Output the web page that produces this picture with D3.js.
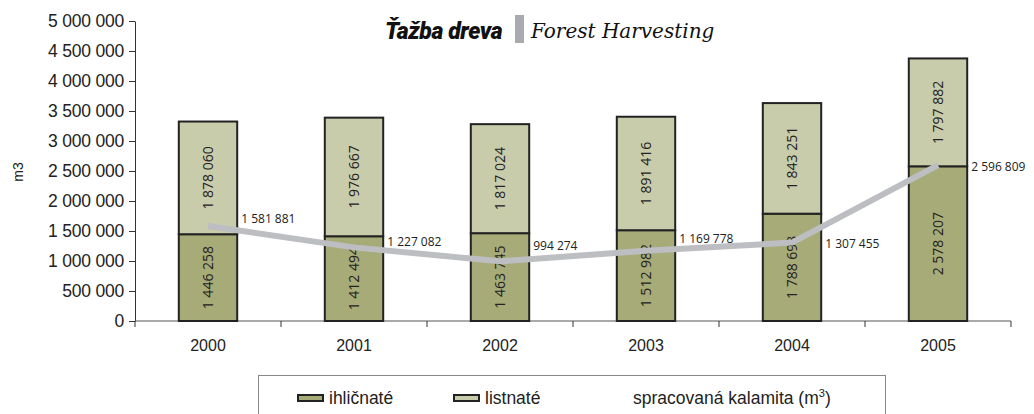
<!DOCTYPE html>
<html>
<head>
	<meta charset="utf-8">
	<script type="text/javascript" src="https://cdn.jsdelivr.net/npm/d3@7"></script>
	<title>Ťažba dreva - Forest Harvesting</title>
	<style>
		body { margin: 0; background: #fff; }
	</style>
</head>
<body>
	<script type="text/javascript">

	var years = ["2000", "2001", "2002", "2003", "2004", "2005"];
	var ihlicnate = [1446258, 1412494, 1463745, 1512982, 1788693, 2578207];
	var listnate = [1878060, 1976667, 1817024, 1891416, 1843251, 1797882];
	var kalamita = [1581881, 1227082, 994274, 1169778, 1307455, 2596809];
	var yTicks = [0, 500000, 1000000, 1500000, 2000000, 2500000, 3000000, 3500000, 4000000, 4500000, 5000000];
	var seriesNames = ["ihličnaté", "listnaté", "spracovaná kalamita (m"];

	var widthSvg = 1034;
	var heightSvg = 414;

	var svg = d3.select("body")
			.append("svg")
			.attr("width", widthSvg)
			.attr("height", heightSvg);

	// 3 digit groups with a space, like the original
	function fmt(v) {
		return d3.format(",")(v).replace(/,/g, " ");
	}

	var xScale = d3.scaleBand()
		.domain(years)
		.range([135, 1011])
		.paddingInner(0.6)
		.paddingOuter(0.3);

	var yScale = d3.scaleLinear()
		.domain([0, 5000000])
		.range([321, 21]);

	var sansFont = "'Liberation Sans', Arial, sans-serif";
	var labelFont = "'Open Sans', 'Noto Sans', sans-serif";

	// y axis
	var yAxis = d3.axisLeft(yScale)
		.tickValues(yTicks)
		.tickFormat(fmt)
		.tickSize(6)
		.tickSizeOuter(0);

	var gy = svg.append("g")
		.attr("transform", "translate(135,0)")
		.call(yAxis);
	gy.select(".domain").attr("stroke", "#333");
	gy.selectAll(".tick line").attr("stroke", "#333");
	gy.selectAll(".tick text")
		.attr("font-family", sansFont)
		.attr("font-size", 17.5)
		.attr("fill", "#222")
		.attr("x", -11)
		.attr("letter-spacing", -0.2);

	// x axis, ticks between categories
	svg.append("line")
		.attr("x1", 135).attr("x2", 1011)
		.attr("y1", yScale(0)).attr("y2", yScale(0))
		.attr("stroke", "#555");

	var boundaries = d3.range(years.length + 1).map(function(i) { return 135 + i * xScale.step(); });
	svg.selectAll(".xtick")
		.data(boundaries)
		.enter()
		.append("line")
		.attr("x1", function(d) { return d; })
		.attr("x2", function(d) { return d; })
		.attr("y1", yScale(0))
		.attr("y2", yScale(0) + 6)
		.attr("stroke", "#333");

	svg.selectAll(".xlabel")
		.data(years)
		.enter()
		.append("text")
		.attr("x", function(d) { return xScale(d) + xScale.bandwidth() / 2; })
		.attr("y", 351)
		.attr("text-anchor", "middle")
		.attr("font-family", sansFont)
		.attr("font-size", 16)
		.attr("fill", "#222")
		.text(function(d) { return d; });

	svg.append("text")
		.attr("transform", "translate(23,172) rotate(-90)")
		.attr("text-anchor", "middle")
		.attr("font-family", sansFont)
		.attr("font-size", 14)
		.attr("fill", "#222")
		.text("m3");

	// stacked bars
	var stackData = years.map(function(y, i) {
		return { year: y, ihl: ihlicnate[i], lis: listnate[i] };
	});
	var stack = d3.stack().keys(["ihl", "lis"])(stackData);
	var colors = { ihl: "#a7ab77", lis: "#c9ccab" };

	var layers = svg.selectAll(".layer")
		.data(stack)
		.enter()
		.append("g")
		.attr("fill", function(d) { return colors[d.key]; });

	layers.selectAll("rect")
		.data(function(d) { return d; })
		.enter()
		.append("rect")
		.attr("x", function(d) { return xScale(d.data.year); })
		.attr("y", function(d) { return yScale(d[1]); })
		.attr("width", xScale.bandwidth())
		.attr("height", function(d) { return yScale(d[0]) - yScale(d[1]); })
		.attr("stroke", "#222")
		.attr("stroke-width", 2);

	// kalamita line
	var line = d3.line()
		.x(function(d, i) { return xScale(years[i]) + xScale.bandwidth() / 2; })
		.y(function(d) { return yScale(d); });

	svg.append("path")
		.datum(kalamita)
		.attr("d", line)
		.attr("fill", "none")
		.attr("stroke", "#bdbec2")
		.attr("stroke-width", 6)
		.attr("stroke-linejoin", "round");

	layers.selectAll("text")
		.data(function(d) { return d; })
		.enter()
		.append("text")
		.attr("transform", function(d) {
			var cx = xScale(d.data.year) + xScale.bandwidth() / 2 + 5;
			var cy = (yScale(d[0]) + yScale(d[1])) / 2;
			return "translate(" + cx + "," + cy + ") rotate(-90)";
		})
		.attr("text-anchor", "middle")
		.attr("font-family", labelFont)
		.attr("font-size", 14)
		.attr("fill", "#222")
		.text(function(d) { return fmt(d[1] - d[0]); });

	// label nudges, as placed in the original
	var labelDy = [-8, -6, -16, -13, 0, 1];
	svg.selectAll(".linelabel")
		.data(kalamita)
		.enter()
		.append("text")
		.attr("x", function(d, i) { return xScale(years[i]) + xScale.bandwidth() + 4; })
		.attr("y", function(d, i) { return yScale(d) + labelDy[i] + 5; })
		.attr("font-family", labelFont)
		.attr("font-size", 12)
		.attr("fill", "#222")
		.text(function(d) { return fmt(d); });

	// title
	svg.append("text")
		.attr("x", 385)
		.attr("y", 39)
		.attr("font-family", "Roboto, sans-serif")
		.attr("font-size", 23)
		.attr("font-weight", 900)
		.attr("font-style", "italic")
		.attr("letter-spacing", -0.4)
		.attr("fill", "#111")
		.text("Ťažba dreva");
	svg.append("rect")
		.attr("x", 515).attr("y", 15)
		.attr("width", 9).attr("height", 28)
		.attr("fill", "#a9aaae");
	svg.append("text")
		.attr("x", 531)
		.attr("y", 38)
		.attr("font-family", "'DejaVu Serif', serif")
		.attr("font-style", "italic")
		.attr("font-size", 20)
		.attr("fill", "#111")
		.text("Forest Harvesting");

	// legend
	svg.append("rect")
		.attr("x", 258.5).attr("y", 375.5)
		.attr("width", 627).attr("height", 50)
		.attr("fill", "none")
		.attr("stroke", "#888");

	var legendX = [298, 454, 633];
	var legend = svg.selectAll(".legend")
		.data(seriesNames)
		.enter()
		.append("g")
		.attr("transform", function(d, i) { return "translate(" + legendX[i] + ",398)"; });

	legend.filter(function(d, i) { return i < 2; })
		.append("rect")
		.attr("x", 0).attr("y", -3)
		.attr("width", 25).attr("height", 6)
		.attr("fill", function(d, i) { return i == 0 ? colors.ihl : colors.lis; })
		.attr("stroke", "#222")
		.attr("stroke-width", 2);

	var legendText = legend.append("text")
		.attr("x", function(d, i) { return i < 2 ? 31 : 0; })
		.attr("y", 6)
		.attr("font-family", sansFont)
		.attr("font-size", 17.5)
		.attr("fill", "#222")
		.text(function(d) { return d; });
	legendText.filter(function(d, i) { return i == 2; })
		.append("tspan")
		.attr("font-size", 11)
		.attr("dy", -7)
		.text("3");
	legendText.filter(function(d, i) { return i == 2; })
		.append("tspan")
		.attr("dy", 7)
		.text(")");

	</script>
</body>
</html>
